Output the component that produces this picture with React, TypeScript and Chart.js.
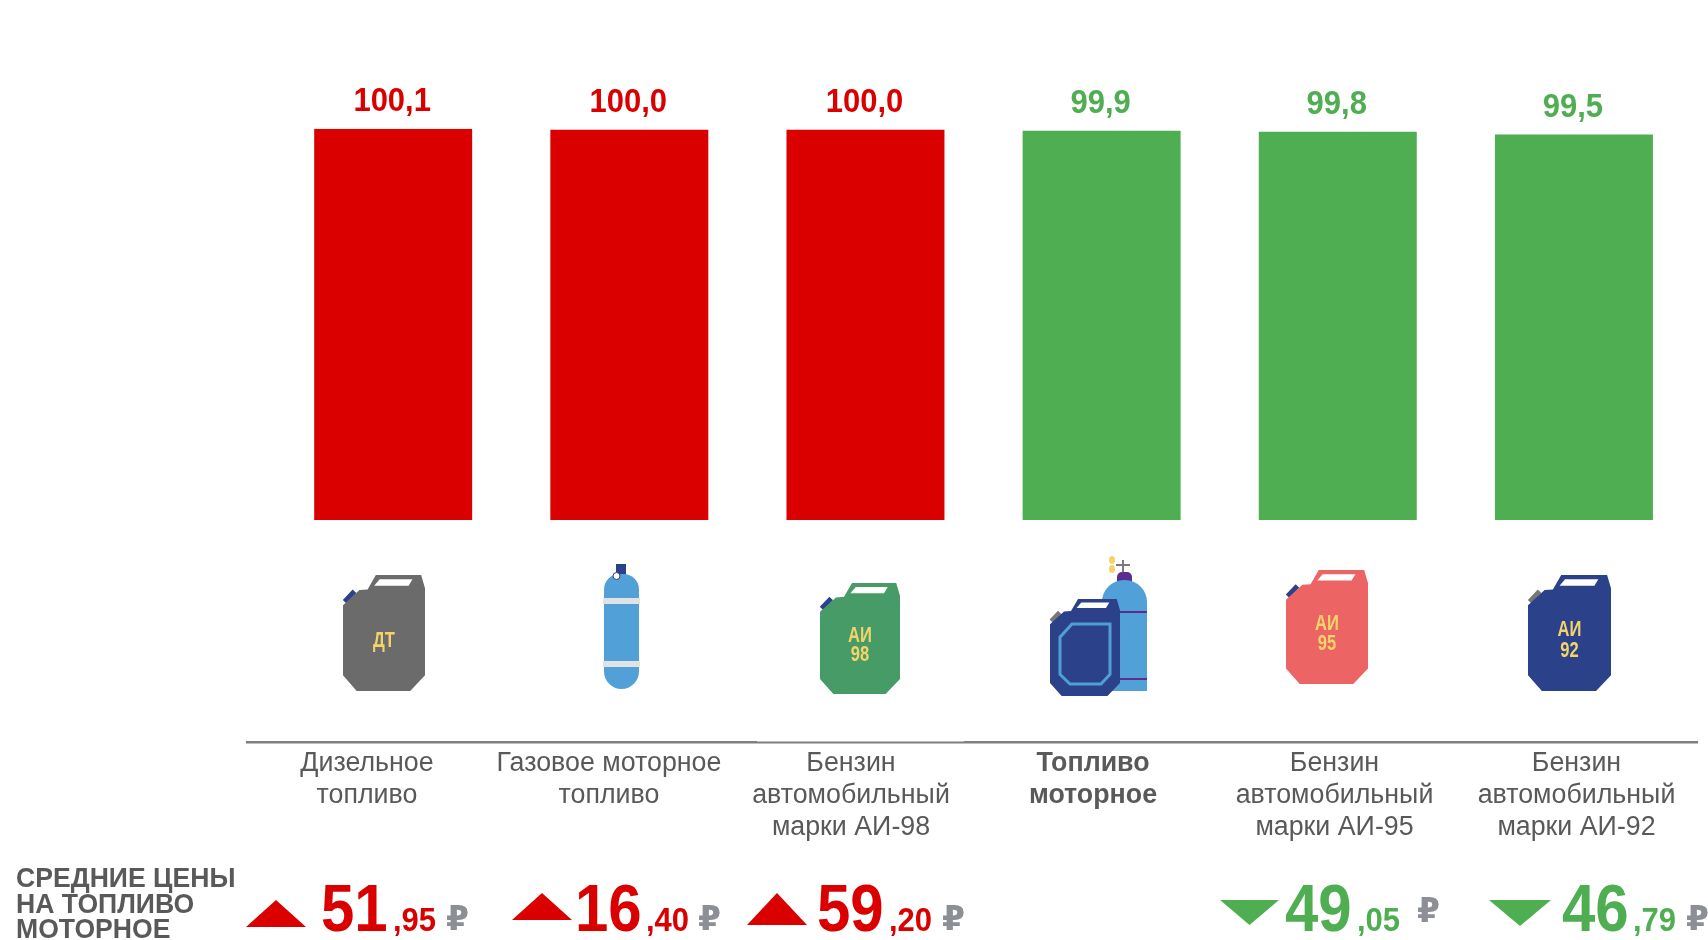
import React, { useEffect, useRef } from "react";
import { Chart, registerables } from "chart.js";

Chart.register(...registerables);

const categories: string[][] = [
  ["Дизельное", "топливо"],
  ["Газовое моторное", "топливо"],
  ["Бензин", "автомобильный", "марки АИ-98"],
  ["Топливо", "моторное"],
  ["Бензин", "автомобильный", "марки АИ-95"],
  ["Бензин", "автомобильный", "марки АИ-92"],
];
const values = [100.1, 100.0, 100.0, 99.9, 99.8, 99.5];
const priceRub = ["51", "16", "59", null, "49", "46"];
const priceKop = [",95", ",40", ",20", null, ",05", ",79"];
const priceUp = [true, true, true, null, false, false];
const heading = ["СРЕДНИЕ ЦЕНЫ", "НА ТОПЛИВО", "МОТОРНОЕ"];

const RED = "#db0000";
const GREEN = "#4fae52";
const TEXT = "#595959";
const RUB = "#8c8f96";
const FONT = '"Liberation Sans", Arial, sans-serif';
const barColors = [RED, RED, RED, GREEN, GREEN, GREEN];

const labelCenters = [367, 609, 851, 1093, 1334.5, 1576.5];
const priceLayout = [
  { tri: [246, 306, 900, 927], rub: 321, kop: 393, sym: 446, symY: 930 },
  { tri: [512, 572, 893, 920], rub: 575, kop: 646, sym: 698, symY: 930 },
  { tri: [747, 807, 893, 925], rub: 817, kop: 889, sym: 942, symY: 930 },
  null,
  { tri: [1220, 1279, 900, 925], rub: 1285, kop: 1357, sym: 1417, symY: 922 },
  { tri: [1489, 1551, 900, 926], rub: 1562, kop: 1633, sym: 1686, symY: 930 },
];

type C = CanvasRenderingContext2D;

function txt(ctx: C, s: string, x: number, y: number, font: string, color: string, align: CanvasTextAlign = "left", sy = 1.1, sx = 1) {
  ctx.save();
  ctx.translate(x, y);
  ctx.scale(sx, sy);
  ctx.font = font;
  ctx.fillStyle = color;
  ctx.textAlign = align;
  ctx.textBaseline = "alphabetic";
  ctx.fillText(s, 0, 0);
  ctx.restore();
}

function poly(ctx: C, pts: number[][], x: number, y: number, w: number, h: number) {
  ctx.beginPath();
  pts.forEach(([px, py], i) => {
    const X = x + px * w;
    const Y = y + py * h;
    if (i) ctx.lineTo(X, Y);
    else ctx.moveTo(X, Y);
  });
  ctx.closePath();
}

const canBody = [[0.4, 0], [0.953, 0], [1, 0.115], [1, 0.865], [0.82, 1], [0.167, 1], [0, 0.865], [0, 0.26], [0.2, 0.13], [0.3, 0.124]];
const canHole = [[0.447, 0.037], [0.847, 0.037], [0.8, 0.092], [0.38, 0.092]];

function drawCan(ctx: C, x: number, y: number, w: number, h: number, fill: string, cap: string, lines: string[]) {
  ctx.save();
  ctx.strokeStyle = cap;
  ctx.lineWidth = 5;
  ctx.beginPath();
  ctx.moveTo(x + 0.02 * w, y + 0.23 * h);
  ctx.lineTo(x + 0.14 * w, y + 0.14 * h);
  ctx.stroke();
  ctx.fillStyle = fill;
  poly(ctx, canBody, x, y, w, h);
  ctx.fill();
  ctx.fillStyle = "#ffffff";
  poly(ctx, canHole, x, y, w, h);
  ctx.fill();
  lines.forEach((l, i) => {
    const cy = lines.length === 1 ? 0.62 : 0.53 + i * 0.175;
    txt(ctx, l, x + 0.5 * w, y + cy * h, 'bold 18px "Liberation Sans", sans-serif', "#f4d46a", "center", 1.25, 0.92);
  });
  ctx.restore();
}

function drawIcons(ctx: C) {
  drawCan(ctx, 343, 575, 82, 116, "#6b6b6b", "#2b4189", ["ДТ"]);
  drawCan(ctx, 820, 583, 80, 111, "#479b66", "#2b4189", ["АИ", "98"]);
  drawCan(ctx, 1286, 570, 82, 114, "#ec6464", "#2b4189", ["АИ", "95"]);
  drawCan(ctx, 1528, 575, 83, 116, "#2b4189", "#777777", ["АИ", "92"]);

  // gas cylinder
  ctx.save();
  ctx.fillStyle = "#2b4189";
  ctx.fillRect(616, 564, 10, 12);
  ctx.fillStyle = "#52a0d8";
  ctx.beginPath();
  ctx.roundRect(604, 574, 35, 115, [16, 16, 18, 18]);
  ctx.fill();
  ctx.fillStyle = "#dfe3e5";
  ctx.fillRect(603, 598, 37, 6);
  ctx.fillRect(603, 661, 37, 6);
  ctx.fillStyle = "#ffffff";
  ctx.beginPath();
  ctx.arc(616.5, 576, 3.5, 0, Math.PI * 2);
  ctx.fill();
  ctx.strokeStyle = "#2b4189";
  ctx.lineWidth = 1;
  ctx.stroke();
  ctx.restore();

  // motor fuel combined icon
  ctx.save();
  ctx.fillStyle = "#7b7b7b";
  ctx.fillRect(1116, 564, 14, 2);
  ctx.fillRect(1122, 560, 2, 12);
  ctx.fillStyle = "#f4d46a";
  ctx.beginPath();
  ctx.ellipse(1112, 560, 3, 4, 0, 0, Math.PI * 2);
  ctx.ellipse(1112, 569, 3, 4, 0, 0, Math.PI * 2);
  ctx.fill();
  ctx.fillStyle = "#5c2d91";
  ctx.beginPath();
  ctx.roundRect(1117, 572, 15, 10, [5, 5, 0, 0]);
  ctx.fill();
  ctx.fillStyle = "#52a0d8";
  ctx.beginPath();
  ctx.roundRect(1102, 580, 45, 111, [22, 22, 0, 0]);
  ctx.fill();
  ctx.fillStyle = "#5c2d91";
  ctx.fillRect(1120, 611, 27, 2);
  ctx.fillRect(1120, 678, 27, 2);
  drawCan(ctx, 1050, 599, 70, 97, "#2b4189", "#777777", []);
  ctx.strokeStyle = "#4f9fd6";
  ctx.lineWidth = 3;
  poly(ctx, [[0.24, 0], [1, 0], [1, 0.84], [0.82, 1], [0.2, 1], [0, 0.84], [0, 0.22]], 1060, 624, 50, 60);
  ctx.stroke();
  ctx.restore();
}

const overlay = {
  id: "overlay",
  afterDatasetsDraw(chart: Chart) {
    const ctx = chart.ctx as C;
    const xs = chart.scales.x;
    const ys = chart.scales.y;

    values.forEach((v, i) => {
      txt(ctx, v.toFixed(1).replace(".", ","), xs.getPixelForValue(i) - 1, ys.getPixelForValue(v) - 18,
        `bold 31px ${FONT}`, barColors[i], "center", 1.08);
    });

    drawIcons(ctx);

    ctx.fillStyle = "#7f7f7f";
    ctx.fillRect(246, 741, 511, 2.5);
    ctx.fillRect(757, 741.5, 207, 2);
    ctx.fillRect(964, 741, 734, 2.5);

    categories.forEach((lines, i) => {
      const bold = i === 3;
      lines.forEach((l, j) => {
        txt(ctx, l, labelCenters[i], 770.5 + j * 32, `${bold ? "bold " : ""}26.8px ${FONT}`, TEXT, "center", 1.02);
      });
    });

    heading.forEach((l, j) => {
      txt(ctx, l, 16, 887 + j * 25.5, `bold 26.6px ${FONT}`, TEXT, "left", 1.03);
    });

    priceLayout.forEach((p, i) => {
      if (!p) return;
      const up = priceUp[i];
      const color = up ? RED : GREEN;
      const [a, b, t, u] = p.tri;
      ctx.fillStyle = color;
      ctx.beginPath();
      if (up) {
        ctx.moveTo(a, u);
        ctx.lineTo(b, u);
        ctx.lineTo((a + b) / 2, t);
      } else {
        ctx.moveTo(a, t);
        ctx.lineTo(b, t);
        ctx.lineTo((a + b) / 2, u);
      }
      ctx.closePath();
      ctx.fill();
      txt(ctx, priceRub[i] as string, p.rub, 930.5, `bold 60px ${FONT}`, color);
      txt(ctx, priceKop[i] as string, p.kop, 930.5, `bold 31px ${FONT}`, color);
      txt(ctx, "₽", p.sym, p.symY, `bold 33px "DejaVu Sans", "Noto Sans", sans-serif`, RUB, "left", 1);
    });
  },
};

export default function App() {
  const ref = useRef<HTMLCanvasElement>(null);
  useEffect(() => {
    document.body.style.margin = "0";
    document.body.style.background = "#ffffff";
    const chart = new Chart(ref.current as HTMLCanvasElement, {
      type: "bar",
      data: {
        labels: categories,
        datasets: [
          {
            data: values,
            backgroundColor: barColors,
            barPercentage: 0.669,
            categoryPercentage: 1,
            borderWidth: 0,
          },
        ],
      },
      options: {
        responsive: false,
        animation: false,
        layout: { padding: { left: 275.1, right: 16, top: 128.7, bottom: 420 } },
        plugins: { legend: { display: false }, title: { display: false }, tooltip: { enabled: false } },
        scales: {
          x: { display: false },
          y: { display: false, min: 60, max: 100.1 },
        },
      },
      plugins: [overlay],
    });
    return () => chart.destroy();
  }, []);
  return <canvas ref={ref} width={1708} height={940} style={{ display: "block" }} />;
}
